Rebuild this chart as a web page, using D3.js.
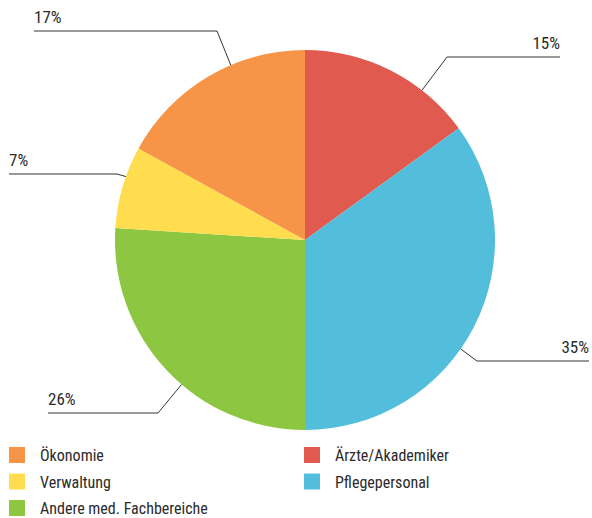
<!DOCTYPE html>
<html>
<head>
<meta charset="utf-8">
<script src="https://cdn.jsdelivr.net/npm/d3@7"></script>
<style>
  body { margin: 0; background: #fff; }
  text { font-family: "Liberation Sans Narrow", "Roboto Condensed", "Arial Narrow", Roboto, sans-serif; fill: #2b2b2b; }
</style>
</head>
<body>
<div id="chart"></div>
<script>
// data, in clockwise order from 12 o'clock
var categories = ['Ärzte/Akademiker', 'Pflegepersonal', 'Andere med. Fachbereiche', 'Verwaltung', 'Ökonomie'];
var values = [15, 35, 26, 7, 17];
var colors = ['#e05a4f', '#52bedc', '#8dc641', '#ffdd4f', '#f69447'];
var legendOrder = ['Ökonomie', 'Verwaltung', 'Andere med. Fachbereiche', 'Ärzte/Akademiker', 'Pflegepersonal'];

// leader line layout: anchor angle on rim (deg), elbow point, end of horizontal
var labelLayout = [
  { angle: 38,  elbow: [447, 57],  end: 560, side: 'right' },
  { angle: 125, elbow: [477, 361], end: 589, side: 'right' },
  { angle: 220.5, elbow: [158, 413], end: 48, side: 'left' },
  { angle: 289.5, elbow: [117, 174], end: 9, side: 'left' },
  { angle: 337, elbow: [217, 31],  end: 34, side: 'left' }
];

var width = 592, height = 518;
var cx = 305, cy = 240, radius = 190;

var svg = d3.select('#chart').append('svg')
  .attr('width', width)
  .attr('height', height);

var color = d3.scaleOrdinal().domain(categories).range(colors);

var pie = d3.pie().sort(null).value(function(d) { return d.value; });
var arc = d3.arc().innerRadius(0).outerRadius(radius);

var data = categories.map(function(c, i) { return { name: c, value: values[i] }; });

var g = svg.append('g').attr('transform', 'translate(' + cx + ',' + cy + ')');

g.selectAll('path')
  .data(pie(data))
  .enter().append('path')
  .attr('d', arc)
  .attr('fill', function(d) { return color(d.data.name); });

// leader lines + labels
data.forEach(function(d, i) {
  var l = labelLayout[i];
  var a = l.angle * Math.PI / 180;
  var px = cx + radius * Math.sin(a);
  var py = cy - radius * Math.cos(a);
  svg.append('polyline')
    .attr('points', [[px, py], l.elbow, [l.end, l.elbow[1]]].map(function(p) { return p.join(','); }).join(' '))
    .attr('fill', 'none')
    .attr('stroke', '#333')
    .attr('stroke-width', 1);
  svg.append('text')
    .attr('x', l.end)
    .attr('y', l.elbow[1] - 8.5)
    .attr('text-anchor', l.side == 'right' ? 'end' : 'start')
    .style('font-size', '17px')
    .text(d.value + '%');
});

// legend, two columns
var legend = svg.append('g');
legendOrder.forEach(function(name, i) {
  var col = i < 3 ? 0 : 1;
  var row = i < 3 ? i : i - 3;
  var x = col == 0 ? 9 : 304;
  var y = 447 + row * 26.5;
  legend.append('rect')
    .attr('x', x).attr('y', y)
    .attr('width', 16).attr('height', 16)
    .attr('fill', color(name));
  legend.append('text')
    .attr('x', x + 31)
    .attr('y', y + 14)
    .style('font-size', '16px')
    .text(name);
});
</script>
</body>
</html>
